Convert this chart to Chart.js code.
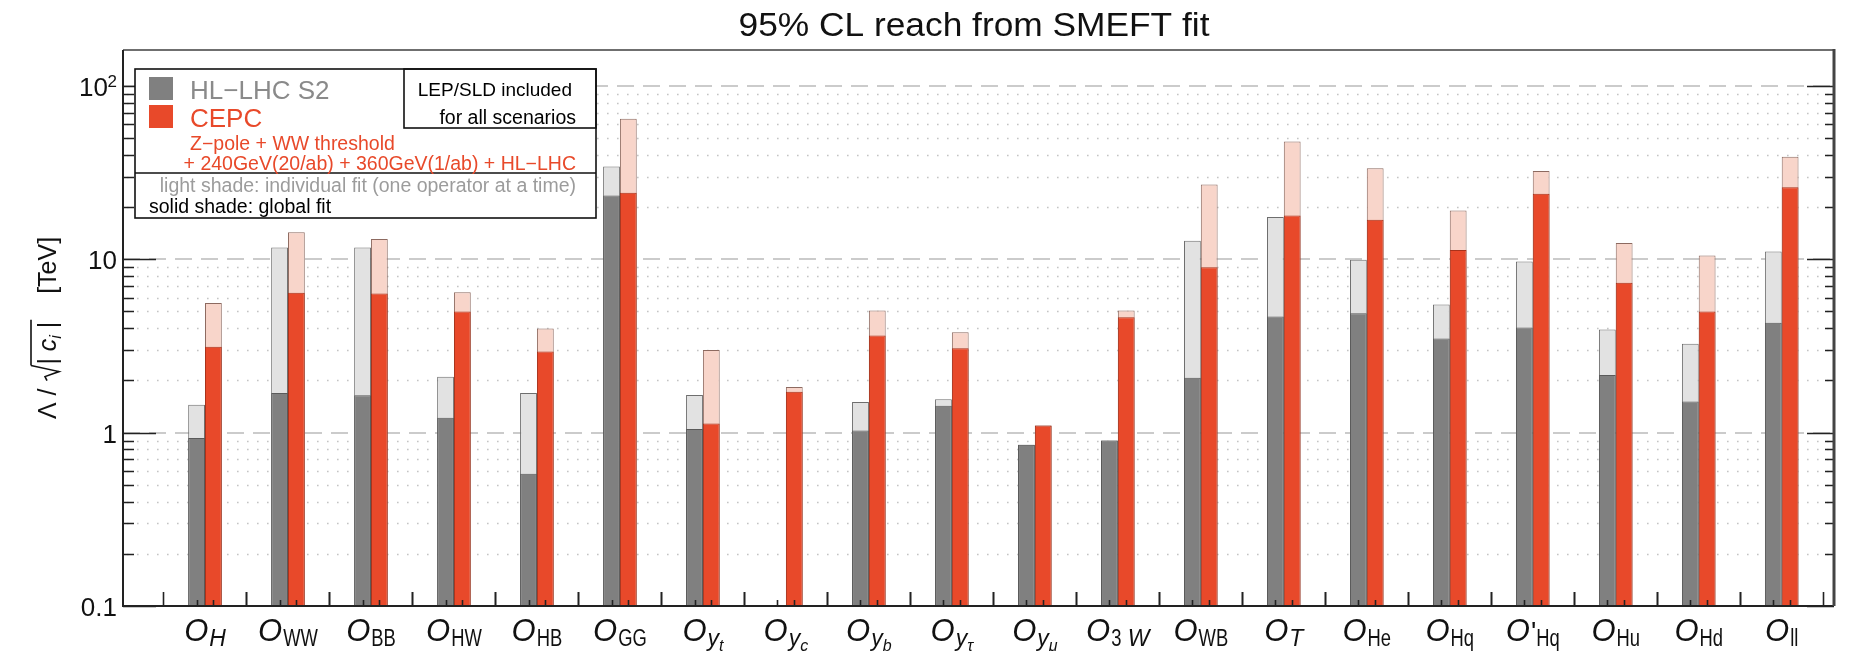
<!DOCTYPE html>
<html>
<head>
<meta charset="utf-8">
<script src="https://cdn.jsdelivr.net/npm/chart.js@4.4.1/dist/chart.umd.min.js"></script>
<style>
  html, body { margin: 0; padding: 0; background: #fff; }
  canvas { display: block; }
</style>
</head>
<body>
<canvas id="reach" width="1867" height="651"></canvas>
<script>
// operator names (subscript part after the O)
const operators = ['H', 'WW', 'BB', 'HW', 'HB', 'GG', 'y_t', 'y_c', 'y_b', 'y_τ', 'y_μ', '3W', 'WB', 'T', 'He', 'Hq', "'Hq", 'Hu', 'Hd', 'll'];

// 95% CL reach in TeV
const hlGlobal       = [0.93, 1.69, 1.64, 1.22, 0.58, 23.3, 1.05, null, 1.03, 1.43, 0.85, 0.90, 2.07, 4.67, 4.88, 3.49, 4.04, 2.15, 1.51, 4.3];
const hlIndividual   = [1.45, 11.7, 11.7, 2.10, 1.69, 34.3, 1.65, null, 1.50, 1.56, 0.85, 0.90, 12.8, 17.5, 9.92, 5.48, 9.70, 3.93, 3.25, 11.1];
const cepcGlobal     = [3.13, 6.40, 6.34, 4.99, 2.94, 24.2, 1.13, 1.72, 3.63, 3.07, 1.10, 4.63, 9.00, 17.9, 16.9, 11.3, 23.9, 7.31, 4.99, 26.0];
const cepcIndividual = [5.60, 14.3, 13.1, 6.45, 3.98, 64.6, 3.00, 1.83, 5.06, 3.79, 1.10, 5.06, 27.0, 47.8, 33.5, 19.1, 32.3, 12.4, 10.5, 39.0];

const yTicks = [0.1, 1, 10, 100];

const FONT = "'Liberation Sans', Arial, Helvetica, sans-serif";
const RED = '#e8492a';
const GRAY = '#808080';

function drawText(ctx, str, x, y, opt) {
  const o = Object.assign({ size: 20, color: '#000', align: 'left', sx: 1, style: '' }, opt);
  ctx.save();
  ctx.font = `${o.style} ${o.size}px ${FONT}`;
  ctx.fillStyle = o.color;
  ctx.textBaseline = 'alphabetic';
  const w = ctx.measureText(str).width * o.sx;
  let x0 = x;
  if (o.align === 'right') x0 = x - w;
  else if (o.align === 'center') x0 = x - w / 2;
  ctx.translate(x0, y);
  ctx.scale(o.sx, 1);
  ctx.fillText(str, 0, 0);
  ctx.restore();
  return w;
}

function measure(ctx, str, size, style, sx) {
  ctx.save();
  ctx.font = `${style || ''} ${size}px ${FONT}`;
  const w = ctx.measureText(str).width * (sx || 1);
  ctx.restore();
  return w;
}

// pieces of an x label: O + subscript (+ sub-subscript)
function labelParts(op) {
  const SUB = 0.8;
  const parts = [{ t: 'O', size: 31, style: 'italic', dy: 0, sx: 1 }];
  if (op.startsWith("'")) {
    parts.push({ t: "'", size: 28, style: '', dy: 0, sx: 1 });
    op = op.slice(1);
  }
  if (op.startsWith('y_')) {
    parts.push({ t: 'y', size: 23, style: 'italic', dy: 5, sx: 1 });
    parts.push({ t: op.slice(2), size: 16, style: 'italic', dy: 10, sx: 1 });
  } else if (op === '3W') {
    parts.push({ t: '3', size: 23, style: '', dy: 5, sx: SUB });
    parts.push({ t: ' W', size: 23, style: 'italic', dy: 5, sx: 1 });
  } else {
    const it = (op === 'H' || op === 'T');
    parts.push({ t: op, size: 23, style: it ? 'italic' : '', dy: 5, sx: it ? 1 : SUB });
  }
  return parts;
}

function drawYTitle(ctx, cx, cy) {
  ctx.save();
  ctx.translate(cx, cy);
  ctx.rotate(-Math.PI / 2);
  const S = 25;
  const segs = [
    { t: 'Λ', size: S }, { t: ' / ', size: S }, { rad: true, w: 17 },
    { t: '| ', size: S }, { t: 'c', size: S, style: 'italic' },
    { t: 'i', size: 16, style: 'italic', dy: 5 }, { t: ' |', size: S, barEnd: true },
    { t: '    [TeV]', size: S }
  ];
  let total = 0;
  segs.forEach(s => { s.width = s.rad ? s.w : measure(ctx, s.t, s.size, s.style); total += s.width; });
  let x = -total / 2;
  const base = 9;
  let radStart = 0;
  segs.forEach(s => {
    if (s.rad) {
      radStart = x;
      ctx.strokeStyle = '#111';
      ctx.lineWidth = 1.6;
      ctx.beginPath();
      ctx.moveTo(x + 1, base - 9);
      ctx.lineTo(x + 5, base - 11);
      ctx.lineTo(x + 10, base + 3);
      ctx.lineTo(x + 16, base - 25);
      ctx.stroke();
    } else {
      drawText(ctx, s.t, x, base + (s.dy || 0), { size: s.size, style: s.style || '', color: '#111' });
    }
    x += s.width;
    if (s.barEnd) {
      ctx.beginPath();
      ctx.moveTo(radStart + 16, base - 25);
      ctx.lineTo(x + 2, base - 25);
      ctx.stroke();
    }
  });
  ctx.restore();
}

const decorations = {
  id: 'decorations',
  beforeDatasetsDraw(chart) {
    const { ctx, chartArea: a, scales: { y } } = chart;
    ctx.save();
    // dotted minor grid
    ctx.strokeStyle = '#c4c4c4';
    ctx.lineWidth = 1.6;
    ctx.setLineDash([1.6, 8.4]);
    yTicks.forEach(d => {
      for (let m = 2; m <= 9; m++) {
        const v = d * m;
        if (v > y.max) break;
        const py = Math.round(y.getPixelForValue(v)) + 0.5;
        ctx.beginPath(); ctx.moveTo(a.left + 4, py); ctx.lineTo(a.right, py); ctx.stroke();
      }
    });
    // dashed decade grid
    ctx.strokeStyle = '#cbcbcb';
    ctx.lineWidth = 2;
    ctx.setLineDash([17, 9]);
    yTicks.slice(1).forEach(v => {
      const py = Math.round(y.getPixelForValue(v));
      ctx.beginPath(); ctx.moveTo(a.left, py); ctx.lineTo(a.right, py); ctx.stroke();
    });
    ctx.restore();
  },
  afterDraw(chart) {
    const { ctx, chartArea: a, scales: { x, y } } = chart;
    ctx.save();

    // y ticks (left and right, pointing inward)
    ctx.strokeStyle = '#222';
    ctx.lineWidth = 1.6;
    yTicks.forEach(d => {
      for (let m = 1; m <= 9; m++) {
        const v = d * m;
        if (v > y.max || v < y.min) continue;
        const py = Math.round(y.getPixelForValue(v)) + 0.5;
        const major = m === 1;
        ctx.beginPath();
        ctx.moveTo(a.left, py); ctx.lineTo(a.left + (major ? 33 : 11), py);
        ctx.moveTo(a.right, py); ctx.lineTo(a.right - (major ? 27 : 9), py);
        ctx.stroke();
      }
    });

    // x ticks: group edges and bar centres
    operators.forEach((op, i) => {
      [i - 0.5, i + 0.5].forEach(v => {
        const px = Math.round(x.getPixelForValue(v)) + 0.5;
        ctx.beginPath(); ctx.moveTo(px, a.bottom); ctx.lineTo(px, a.bottom - 14); ctx.stroke();
      });
      [0, 1].forEach(di => {
        const bar = chart.getDatasetMeta(di).data[i];
        if (!bar) return;
        const px = Math.round(bar.x) + 0.5;
        ctx.beginPath(); ctx.moveTo(px, a.bottom); ctx.lineTo(px, a.bottom - 6); ctx.stroke();
      });
    });

    // frame
    ctx.lineWidth = 2;
    ctx.strokeStyle = '#6f6f6f';
    ctx.beginPath(); ctx.moveTo(a.left, a.top); ctx.lineTo(a.right, a.top); ctx.stroke();
    ctx.strokeStyle = '#222';
    ctx.beginPath();
    ctx.moveTo(a.left, a.top); ctx.lineTo(a.left, a.bottom); ctx.lineTo(a.right, a.bottom);
    ctx.stroke();
    ctx.lineWidth = 3;
    ctx.strokeStyle = '#444';
    ctx.beginPath(); ctx.moveTo(a.right, a.top - 1); ctx.lineTo(a.right, a.bottom); ctx.stroke();

    // y tick labels
    yTicks.forEach(v => {
      const py = y.getPixelForValue(v);
      if (v === 100) {
        drawText(ctx, '2', 117, py + 1, { size: 17, align: 'right', color: '#111' });
        drawText(ctx, '10', 108, py + 10, { size: 26, align: 'right', color: '#111' });
      } else {
        drawText(ctx, String(v), 117, py + 10, { size: 26, align: 'right', color: '#111' });
      }
    });

    // x labels
    operators.forEach((op, i) => {
      const cx = x.getPixelForValue(i);
      const parts = labelParts(op);
      const widths = parts.map(p => measure(ctx, p.t, p.size, p.style, p.sx) + (p.t === 'O' ? 1 : 0));
      let px = cx - widths.reduce((s, w) => s + w, 0) / 2;
      parts.forEach((p, k) => {
        drawText(ctx, p.t, px, 641 + p.dy, { size: p.size, style: p.style, sx: p.sx, color: '#111' });
        px += widths[k];
      });
    });

    drawYTitle(ctx, 47, (a.top + a.bottom) / 2);

    // title
    drawText(ctx, '95% CL reach from SMEFT fit', 974, 36, { size: 33, align: 'center', sx: 1.07, color: '#111' });

    // legend
    ctx.fillStyle = '#fff';
    ctx.fillRect(135, 69, 461, 149);
    ctx.lineWidth = 1.6;
    ctx.strokeStyle = '#111';
    ctx.strokeRect(135, 69, 461, 149);
    ctx.strokeRect(404, 69, 192, 59);
    ctx.beginPath(); ctx.moveTo(135, 173); ctx.lineTo(596, 173); ctx.stroke();
    ctx.fillStyle = GRAY; ctx.fillRect(149, 77, 24, 23);
    ctx.fillStyle = RED; ctx.fillRect(149, 105, 24, 23);
    drawText(ctx, 'HL−LHC S2', 190, 99, { size: 26, color: '#8a8a8a' });
    drawText(ctx, 'CEPC', 190, 127, { size: 26, color: RED });
    drawText(ctx, 'Z−pole + WW threshold', 190, 150, { size: 19.5, color: RED });
    drawText(ctx, '+ 240GeV(20/ab) + 360GeV(1/ab) + HL−LHC', 576, 170, { size: 19.5, color: RED, align: 'right' });
    drawText(ctx, 'LEP/SLD included', 572, 96, { size: 19, align: 'right' });
    drawText(ctx, 'for all scenarios', 576, 124, { size: 19.5, align: 'right' });
    drawText(ctx, 'light shade: individual fit (one operator at a time)', 576, 192, { size: 19.5, align: 'right', color: '#9c9c9c' });
    drawText(ctx, 'solid shade: global fit', 149, 213, { size: 19.5 });

    ctx.restore();
  }
};

const pts = arr => arr.map((v, i) => ({ x: i, y: v }));
const barOpts = { borderWidth: 1, borderSkipped: 'start', categoryPercentage: 0.41, barPercentage: 1 };

new Chart(document.getElementById('reach'), {
  type: 'bar',
  data: {
    datasets: [
      Object.assign({ label: 'HL-LHC S2 (global)', stack: 'hl', data: pts(hlGlobal), backgroundColor: GRAY, borderColor: '#5a5a5a' }, barOpts),
      Object.assign({ label: 'CEPC (global)', stack: 'cepc', data: pts(cepcGlobal), backgroundColor: RED, borderColor: '#a8321b' }, barOpts),
      Object.assign({ label: 'HL-LHC S2 (individual)', stack: 'hl', data: pts(hlIndividual), backgroundColor: '#e2e2e2', borderColor: '#6e6e6e' }, barOpts),
      Object.assign({ label: 'CEPC (individual)', stack: 'cepc', data: pts(cepcIndividual), backgroundColor: '#f8d5ca', borderColor: '#8d6a60' }, barOpts)
    ]
  },
  options: {
    responsive: false,
    animation: false,
    devicePixelRatio: 1,
    layout: { padding: { left: 123, right: 33, top: 50, bottom: 45 } },
    plugins: { legend: { display: false }, tooltip: { enabled: false }, title: { display: false } },
    scales: {
      x: { type: 'linear', min: -0.988, max: 19.63, offset: false, display: false },
      y: { type: 'logarithmic', min: 0.1, max: 161, stacked: false, display: false }
    }
  },
  plugins: [decorations]
});
</script>
</body>
</html>
